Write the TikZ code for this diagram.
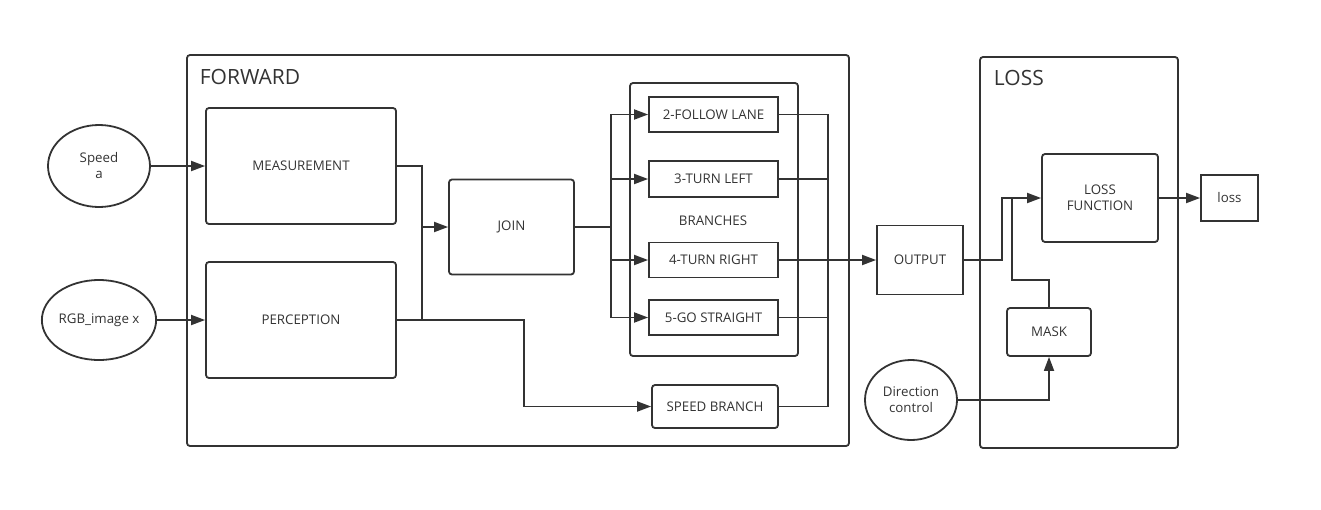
\documentclass[tikz,border=0pt]{standalone}
\usepackage{fontspec}
\setmainfont{Open Sans}
\usetikzlibrary{arrows.meta,shapes.geometric}
\definecolor{ink}{HTML}{333333}

\begin{document}
\begin{tikzpicture}
  [x=1pt,y=-1pt,line width=1.8pt,ink,
   every node/.style={font=\fontsize{13.3}{16}\selectfont, text=ink, align=center, inner sep=0pt},
   blk/.style={draw, rounded corners=3pt},
   sq/.style={draw},
   oval/.style={draw, ellipse},
   frame/.style={draw, rounded corners=3pt},
   title/.style={font=\fontsize{21}{24}\selectfont, anchor=west},
   >={Triangle[length=14pt,width=10pt]}]
  \useasboundingbox (0,0) rectangle (1321,509);

  % frames
  \node[frame, minimum width=662, minimum height=391] (fwd) at (518,250.5) {};
  \node[frame, minimum width=198, minimum height=391] (lss) at (1079,252.5) {};
  \node[frame, minimum width=168, minimum height=273] (brs) at (714,219.5) {};
  \node[title] (tfwd) at (199,77) {FORWARD};
  \node[title] (tlss) at (993,78) {LOSS};
  \node (tbrs) at (713,221) {BRANCHES};

  % inputs
  \node[oval, minimum width=102, minimum height=82] (speed) at (99,166) {Speed\\a};
  \node[oval, minimum width=102, minimum height=80] (rgb) at (99,320) {RGB\_image x};
  \node[oval, minimum width=92, minimum height=80] (dir) at (911,400) {Direction\\control};

  % blocks
  \node[blk, minimum width=190, minimum height=116] (meas) at (301,166) {MEASUREMENT};
  \node[blk, minimum width=190, minimum height=116] (perc) at (301,320) {PERCEPTION};
  \node[blk, minimum width=125, minimum height=95] (join) at (511.5,227) {JOIN};
  \node[sq, minimum width=129, minimum height=35] (b2) at (713.5,114.5) {2-FOLLOW LANE};
  \node[sq, minimum width=129, minimum height=36] (b3) at (713.5,179) {3-TURN LEFT};
  \node[sq, minimum width=129, minimum height=35] (b4) at (713.5,260) {4-TURN RIGHT};
  \node[sq, minimum width=129, minimum height=35] (b5) at (713.5,317.5) {5-GO STRAIGHT};
  \node[blk, minimum width=126, minimum height=43] (spd) at (715,406.5) {SPEED BRANCH};
  \node[sq, minimum width=86, minimum height=69] (out) at (920,260) {OUTPUT};
  \node[blk, minimum width=116, minimum height=88] (lossf) at (1100,198) {LOSS\\FUNCTION};
  \node[sq, minimum width=57, minimum height=46] (loss) at (1229.5,198) {loss};
  \node[blk, minimum width=84, minimum height=48] (mask) at (1049,332) {MASK};

  % junctions
  \coordinate (j1) at (422,227);
  \coordinate (k1) at (524,320);
  \coordinate (j2) at (611,227);
  \coordinate (j3) at (828,260);
  \coordinate (j4) at (1002,260);
  \coordinate (m1) at (1012,280);

  \draw[->] (speed) -- (meas);
  \draw[->] (rgb) -- (perc);
  \foreach \from in {meas,perc}
    \draw (\from.east) -| (j1);
  \draw[->] (j1) -- (join.west);
  \draw[->] (perc.east) -- (k1) |- (spd.west);
  \foreach \to in {b2,b3,b4,b5}
    \draw[->] (join.east) -- (j2) |- (\to.west);
  \foreach \from in {b2,b3,b5,spd}
    \draw (\from.east) -| (j3);
  \draw[->] (b4.east) -- (out.west);
  \draw[->] (out.east) -- (j4) |- (lossf.west);
  \draw (mask.north) |- (m1) -- (m1 |- lossf.west);
  \draw[->] (dir.east) -| (mask.south);
  \draw[->] (lossf) -- (loss);
\end{tikzpicture}
\end{document}
